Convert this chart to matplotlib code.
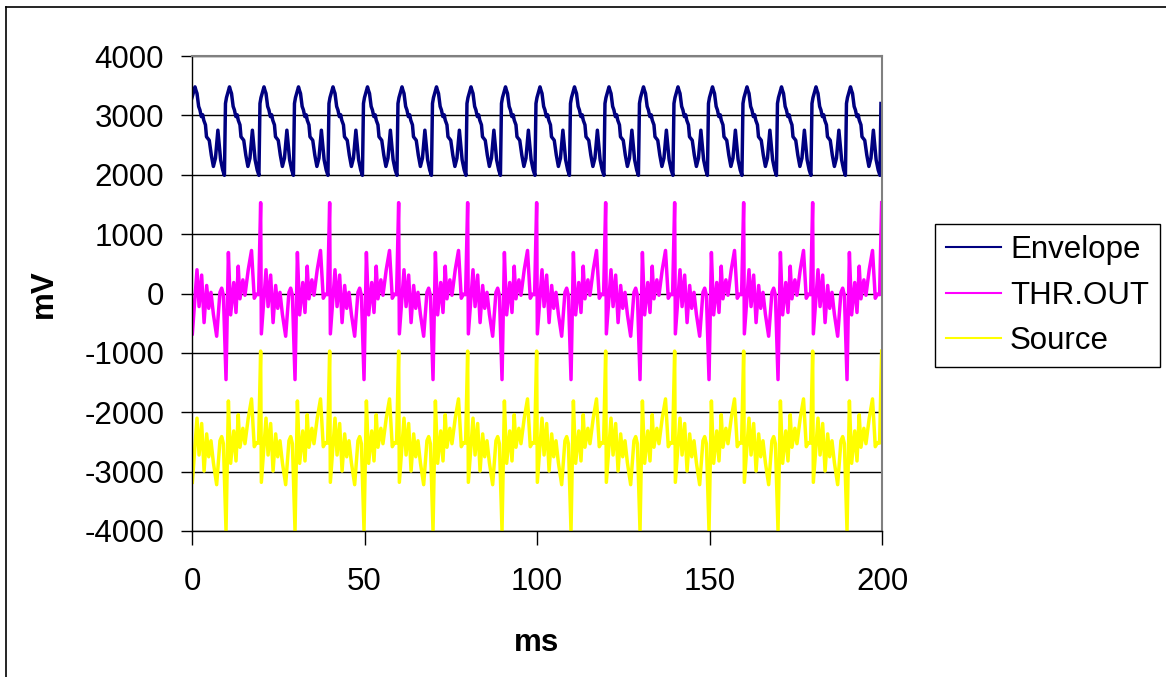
import numpy as np
import matplotlib
matplotlib.use("Agg")
from matplotlib import pyplot as plt
from matplotlib.lines import Line2D

plt.rcParams['font.family'] = ['Liberation Sans', 'DejaVu Sans']
plt.rcParams['axes.unicode_minus'] = False

env_period = 10.0
env_phase = [0.0, 0.4, 0.87, 1.16, 1.45, 1.93, 2.3, 2.7, 3.1, 3.4, 3.9, 4.2,
             4.6, 5.0, 5.6, 6.2, 6.8, 7.5, 8.3, 8.9, 9.4, 9.7]
env_vals = [3300, 3380, 3480, 3420, 3370, 3150, 3090, 2980, 3010, 2920, 2840, 2640,
            2610, 2580, 2330, 2140, 2280, 2750, 2250, 2080, 1990, 3200]

thr_period = 20.0
thr_phase = [0.1, 1.45, 2.05, 2.8, 3.5, 4.25, 4.85, 5.5, 6.2, 7.15, 8.1, 8.6, 9.1,
             9.86, 10.55, 11.2, 12.1, 12.75, 13.4, 13.9, 14.75, 15.35, 16.3, 17.25,
             18.05, 18.7, 19.3, 19.9]
thr_vals = [-680, 400, -220, 310, -490, 135, -250, 20, -350, -720, 20, 90, -30,
            -1450, 690, -360, 185, -320, 460, -90, 230, -30, 400, 725,
            -80, -10, -20, 1530]
src_vals = [-3180, -2100, -2720, -2190, -2990, -2365, -2750, -2480, -2850, -3220, -2480, -2410, -2530,
            -4000, -1810, -2860, -2315, -2820, -2040, -2590, -2270, -2530, -2100, -1775,
            -2580, -2510, -2520, -970]

t_end = 200.0
xticks = [0, 50, 100, 150, 200]
yticks = [-4000, -3000, -2000, -1000, 0, 1000, 2000, 3000, 4000]


def repeat_cycle(phase, vals, period):
    ts, vs = [], []
    k = 0
    while k * period < t_end:
        for p, v in zip(phase, vals):
            ts.append(k * period + p)
            vs.append(v)
        k += 1
    return np.array(ts), np.array(vs)


t_env, y_env = repeat_cycle(env_phase, env_vals, env_period)
t_thr, y_thr = repeat_cycle(thr_phase, thr_vals, thr_period)
t_src, y_src = repeat_cycle(thr_phase, src_vals, thr_period)

fig = plt.figure(figsize=(11.66, 6.77), dpi=100)
ax = fig.add_axes([192/1166, 1-531/677, 690/1166, 475/677])

ax.plot(t_env, y_env, color='#000080', lw=2.5, label='Envelope')
ax.plot(t_thr, y_thr, color='#FF00FF', lw=2.5, label='THR.OUT')
ax.plot(t_src, y_src, color='#FFFF00', lw=2.5, label='Source')

ax.set_xlim(0, 200)
ax.set_ylim(-4000, 4000)
ax.set_xticks(xticks)
ax.set_yticks(yticks)
ax.yaxis.grid(True, color='black', lw=1)
ax.set_axisbelow(True)
ax.tick_params(axis='x', length=10, width=1, pad=16, labelsize=22.5, direction='out')
ax.tick_params(axis='y', length=8, width=1, pad=12, labelsize=22.5, direction='out')
for s in ['top', 'right']:
    ax.spines[s].set_color('#808080')
    ax.spines[s].set_linewidth(1.5)
for s in ['left', 'bottom']:
    ax.spines[s].set_color('black')
    ax.spines[s].set_linewidth(1)

ax.set_xlabel('ms', fontsize=22.5, fontweight='bold', labelpad=22)
ax.set_ylabel('mV', fontsize=22.5, fontweight='bold', labelpad=18)

handles = [Line2D([], [], color=c, lw=1.5) for c in ['#000080', '#FF00FF', '#FFFF00']]
leg = fig.legend(handles, ['Envelope', 'THR.OUT', 'Source'],
                 loc='upper left', bbox_to_anchor=(935/1166, 1-224/677),
                 bbox_transform=fig.transFigure, borderaxespad=0,
                 fontsize=22.5, frameon=True, fancybox=False, framealpha=1,
                 handlelength=1.75, handletextpad=0.3, labelspacing=0.5,
                 borderpad=0.35)
leg.get_frame().set_edgecolor('black')
leg.get_frame().set_linewidth(1)

# outer chart border (only top and left edges fall inside the picture)
fig.add_artist(Line2D([6/1166, 6/1166], [0, 1-7/677], color='black', lw=1.2, transform=fig.transFigure))
fig.add_artist(Line2D([6/1166, 1], [1-7/677, 1-7/677], color='black', lw=1.2, transform=fig.transFigure))

fig.savefig('out.png', dpi=100)
